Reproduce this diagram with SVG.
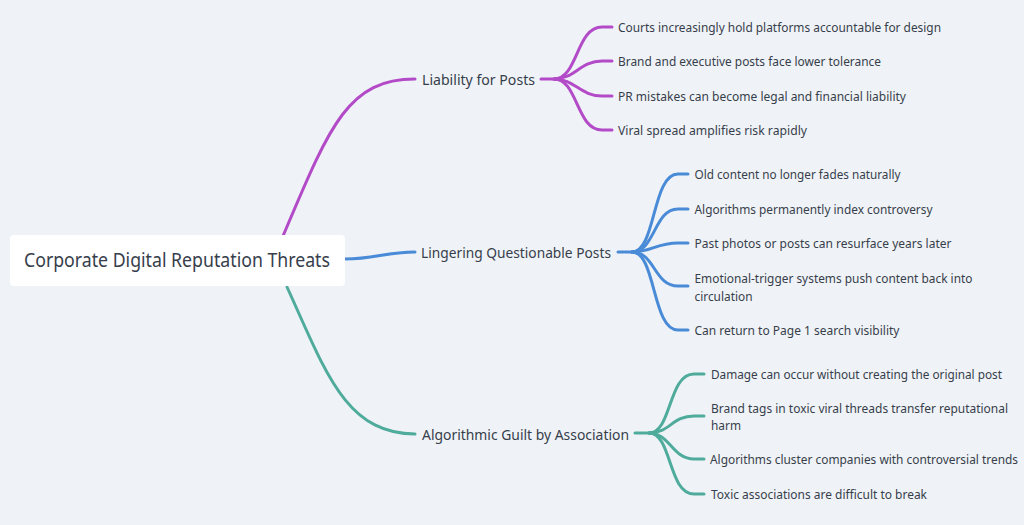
<svg xmlns="http://www.w3.org/2000/svg" width="1024" height="525" viewBox="0 0 1024 525">
<style>
.bg{fill:#eff3f7}
.c{fill:none;stroke-width:3;stroke-linecap:round}
.p{stroke:#b34ac8}
.b{stroke:#4a8bd8}
.t{stroke:#4fab9b}
text{font-family:"Noto Sans","Liberation Sans",sans-serif;fill:#373e4b}
.root{font-size:19px}
.br{font-size:14px}
.lf{font-size:12.5px}
</style>
<rect class="bg" x="0" y="0" width="1024" height="525"/>
<g id="connectors">
<path class="c p" d="M283 236 C330 125 348 79 415 79"/>
<path class="c b" d="M345 259 C375 259 385 252 415 252"/>
<path class="c t" d="M287 287 C325 370 345 434 415 434"/>
<path class="c p" d="M541 79 H554 C578 79 576 27 602 27 H612"/>
<path class="c p" d="M554 79 C575 79 580 61 602 61 H612"/>
<path class="c p" d="M554 79 C575 79 580 96 602 96 H612"/>
<path class="c p" d="M554 79 C578 79 576 130 602 130 H612"/>
<path class="c b" d="M618 252 H632 C656 252 652 174 678 174 H688"/>
<path class="c b" d="M632 252 C655 252 654 209 678 209 H688"/>
<path class="c b" d="M632 252 C652 252 656 243 678 243 H688"/>
<path class="c b" d="M632 252 C655 252 654 286 678 286 H688"/>
<path class="c b" d="M632 252 C656 252 652 330 678 330 H688"/>
<path class="c t" d="M635 433 H649 C672 433 668 374 694 374 H704"/>
<path class="c t" d="M649 433 C670 433 672 416 694 416 H704"/>
<path class="c t" d="M649 433 C670 433 672 459 694 459 H704"/>
<path class="c t" d="M649 433 C672 433 668 494 694 494 H704"/>
</g>
<g id="root">
<rect x="10" y="235" width="335" height="51" rx="4" fill="#ffffff"/>
<text class="root" x="24" y="267" textLength="306" lengthAdjust="spacingAndGlyphs">Corporate Digital Reputation Threats</text>
</g>
<g id="n-liability"><text class="br" x="422" y="84.5" textLength="113" lengthAdjust="spacingAndGlyphs">Liability for Posts</text></g>
<g id="n-lingering"><text class="br" x="421" y="257.5" textLength="190" lengthAdjust="spacingAndGlyphs">Lingering Questionable Posts</text></g>
<g id="n-algorithmic"><text class="br" x="422" y="439.5" textLength="207" lengthAdjust="spacingAndGlyphs">Algorithmic Guilt by Association</text></g>
<g id="l-p1"><text class="lf" x="618" y="31.5" textLength="323" lengthAdjust="spacingAndGlyphs">Courts increasingly hold platforms accountable for design</text></g>
<g id="l-p2"><text class="lf" x="618" y="65.5" textLength="263" lengthAdjust="spacingAndGlyphs">Brand and executive posts face lower tolerance</text></g>
<g id="l-p3"><text class="lf" x="618" y="100.5" textLength="288" lengthAdjust="spacingAndGlyphs">PR mistakes can become legal and financial liability</text></g>
<g id="l-p4"><text class="lf" x="618" y="134.5" textLength="189" lengthAdjust="spacingAndGlyphs">Viral spread amplifies risk rapidly</text></g>
<g id="l-b1"><text class="lf" x="694.5" y="178.5" textLength="206" lengthAdjust="spacingAndGlyphs">Old content no longer fades naturally</text></g>
<g id="l-b2"><text class="lf" x="694.5" y="213.5" textLength="238" lengthAdjust="spacingAndGlyphs">Algorithms permanently index controversy</text></g>
<g id="l-b3"><text class="lf" x="694.5" y="247.5" textLength="257" lengthAdjust="spacingAndGlyphs">Past photos or posts can resurface years later</text></g>
<g id="l-b4"><text class="lf" x="694.5" y="283" textLength="278" lengthAdjust="spacingAndGlyphs">Emotional-trigger systems push content back into</text><text class="lf" x="694.5" y="300.5" textLength="58" lengthAdjust="spacingAndGlyphs">circulation</text></g>
<g id="l-b5"><text class="lf" x="694.5" y="334.5" textLength="205" lengthAdjust="spacingAndGlyphs">Can return to Page 1 search visibility</text></g>
<g id="l-t1"><text class="lf" x="711" y="378.5" textLength="291" lengthAdjust="spacingAndGlyphs">Damage can occur without creating the original post</text></g>
<g id="l-t2"><text class="lf" x="711" y="412.5" textLength="297" lengthAdjust="spacingAndGlyphs">Brand tags in toxic viral threads transfer reputational</text><text class="lf" x="711" y="430" textLength="30" lengthAdjust="spacingAndGlyphs">harm</text></g>
<g id="l-t3"><text class="lf" x="710" y="464" textLength="308" lengthAdjust="spacingAndGlyphs">Algorithms cluster companies with controversial trends</text></g>
<g id="l-t4"><text class="lf" x="711" y="499" textLength="216" lengthAdjust="spacingAndGlyphs">Toxic associations are difficult to break</text></g>
</svg>
